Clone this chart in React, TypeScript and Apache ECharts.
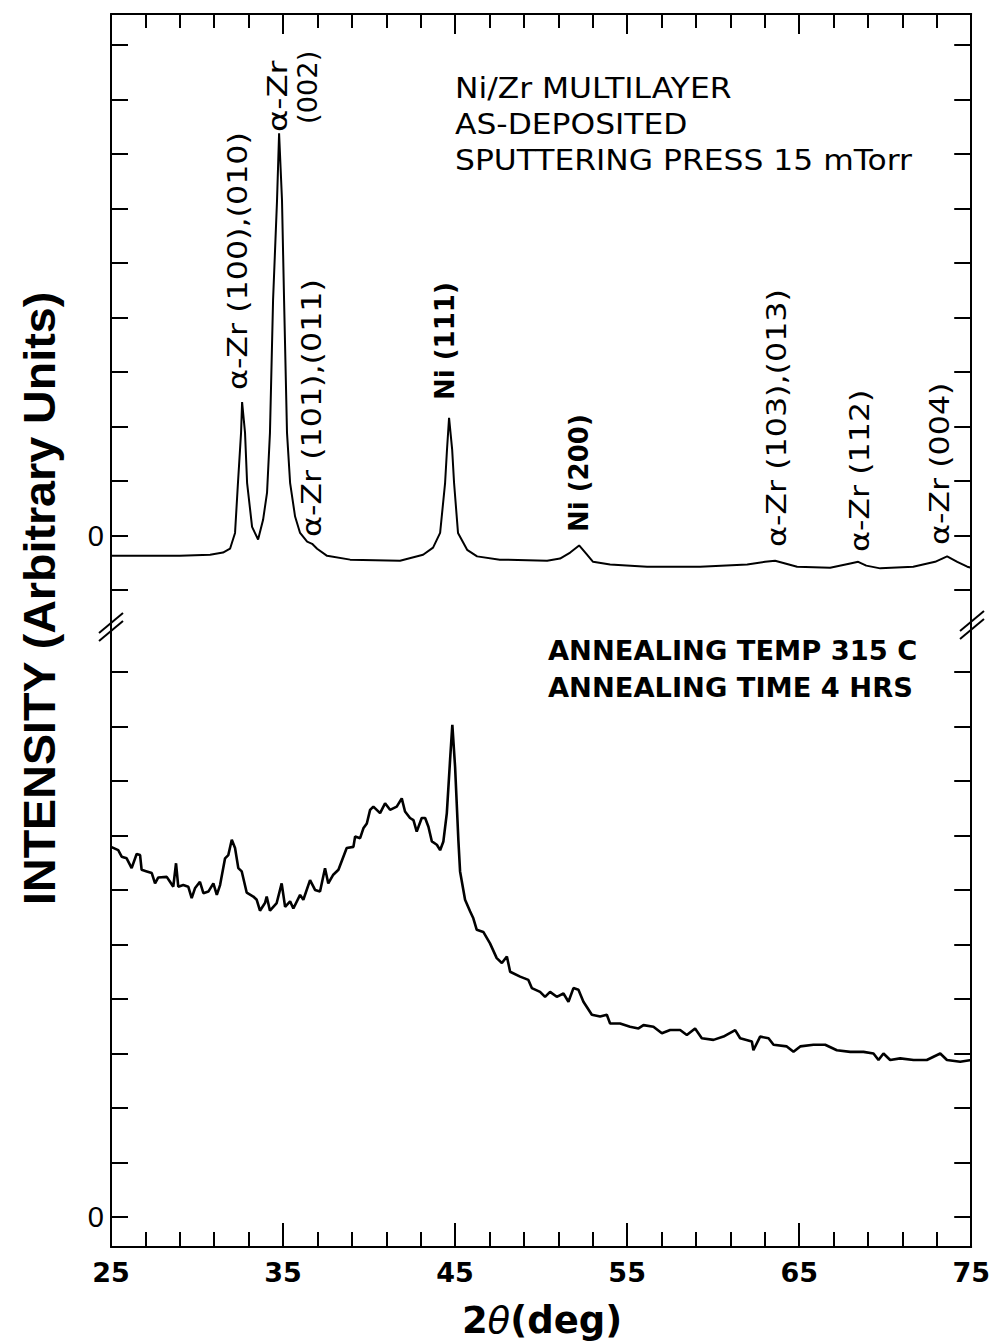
import React, { useEffect, useRef } from 'react';
import * as echarts from 'echarts';

// Horizontal scale (2θ, degrees)
const X_MIN = 25;
const X_MAX = 75;
const X_STEP = 10;

// As-deposited multilayer (intensity relative to its own zero)
const UPPER_2THETA = [25.0, 29.0, 30.76, 31.51, 31.92, 32.21, 32.38, 32.56, 32.62, 32.79, 32.91, 33.2, 33.55, 33.84, 34.07, 34.24, 34.42, 34.65, 34.77, 34.94, 35.06, 35.23, 35.41, 35.7, 35.99, 36.4, 36.69, 36.98, 37.56, 38.9, 41.8, 43.14, 43.72, 44.13, 44.42, 44.53, 44.65, 44.83, 44.94, 45.17, 45.7, 46.28, 47.6, 50.35, 51.1, 51.69, 52.21, 52.62, 53.02, 54.01, 56.16, 59.24, 61.98, 63.02, 63.6, 64.19, 64.88, 66.8, 67.97, 68.43, 68.9, 69.71, 71.63, 72.9, 73.6, 74.19, 74.77, 75.0];
const UPPER_INTENSITY = [-0.37, -0.37, -0.35, -0.31, -0.24, 0.05, 0.97, 1.89, 2.45, 1.89, 0.97, 0.16, -0.07, 0.29, 0.79, 1.89, 4.32, 6.15, 7.38, 6.15, 4.32, 1.89, 0.97, 0.35, 0.05, -0.11, -0.15, -0.24, -0.37, -0.44, -0.46, -0.35, -0.22, 0.05, 0.97, 1.58, 2.16, 1.58, 0.97, 0.05, -0.26, -0.38, -0.44, -0.46, -0.42, -0.31, -0.18, -0.33, -0.48, -0.53, -0.57, -0.57, -0.53, -0.48, -0.46, -0.51, -0.57, -0.59, -0.51, -0.48, -0.55, -0.6, -0.57, -0.48, -0.38, -0.48, -0.57, -0.59];

// Annealed 315 C, 4 hrs
const LOWER_2THETA = [25.0, 25.42, 25.62, 25.91, 26.2, 26.49, 26.69, 26.78, 27.08, 27.37, 27.56, 27.75, 28.24, 28.43, 28.62, 28.78, 28.91, 29.2, 29.49, 29.69, 29.88, 30.17, 30.37, 30.66, 30.95, 31.15, 31.34, 31.63, 31.82, 32.02, 32.21, 32.4, 32.6, 32.89, 33.27, 33.47, 33.66, 33.95, 34.05, 34.24, 34.63, 34.92, 35.12, 35.41, 35.6, 35.99, 36.18, 36.57, 36.86, 37.15, 37.44, 37.63, 37.92, 38.22, 38.7, 39.09, 39.19, 39.48, 39.67, 39.87, 40.06, 40.25, 40.64, 40.93, 41.22, 41.61, 41.9, 42.09, 42.38, 42.58, 42.77, 43.06, 43.26, 43.45, 43.65, 43.94, 44.13, 44.32, 44.52, 44.71, 44.84, 45.0, 45.19, 45.29, 45.48, 45.58, 45.87, 46.06, 46.26, 46.64, 47.03, 47.42, 47.72, 48.01, 48.2, 48.78, 49.26, 49.46, 49.94, 50.23, 50.52, 50.91, 51.3, 51.59, 51.88, 52.17, 52.46, 52.95, 53.43, 53.82, 54.01, 54.59, 55.17, 55.66, 55.95, 56.53, 57.02, 57.5, 58.08, 58.47, 58.95, 59.34, 60.02, 60.6, 61.28, 61.57, 62.25, 62.34, 62.73, 63.22, 63.51, 64.28, 64.67, 65.06, 65.83, 66.51, 67.19, 67.97, 68.74, 69.32, 69.61, 69.9, 70.29, 70.87, 71.65, 72.42, 72.81, 73.2, 73.59, 74.36, 75.0];
const LOWER_INTENSITY = [6.79, 6.73, 6.61, 6.58, 6.40, 6.66, 6.64, 6.37, 6.34, 6.31, 6.12, 6.23, 6.24, 6.15, 6.06, 6.49, 6.06, 6.09, 6.06, 5.85, 6.03, 6.15, 5.94, 5.97, 6.12, 5.91, 6.09, 6.58, 6.64, 6.92, 6.77, 6.40, 6.34, 5.95, 5.88, 5.82, 5.62, 5.76, 5.88, 5.62, 5.76, 6.12, 5.69, 5.79, 5.66, 5.91, 5.82, 6.18, 6.0, 5.97, 6.40, 6.12, 6.28, 6.37, 6.77, 6.79, 6.98, 6.95, 7.13, 7.22, 7.47, 7.53, 7.41, 7.59, 7.47, 7.53, 7.68, 7.44, 7.32, 7.28, 7.07, 7.32, 7.32, 7.16, 6.89, 6.83, 6.73, 6.89, 7.41, 8.39, 9.03, 8.26, 6.92, 6.34, 6.0, 5.82, 5.61, 5.48, 5.27, 5.23, 5.02, 4.75, 4.66, 4.78, 4.50, 4.41, 4.35, 4.20, 4.13, 4.04, 4.13, 4.04, 4.10, 3.95, 4.20, 4.17, 3.95, 3.71, 3.68, 3.71, 3.55, 3.55, 3.49, 3.46, 3.52, 3.49, 3.37, 3.43, 3.43, 3.34, 3.46, 3.28, 3.25, 3.31, 3.43, 3.28, 3.22, 3.06, 3.31, 3.28, 3.16, 3.13, 3.03, 3.13, 3.16, 3.16, 3.06, 3.03, 3.03, 3.0, 2.88, 3.0, 2.88, 2.91, 2.88, 2.88, 2.94, 3.0, 2.88, 2.85, 2.88];

// Shared vertical scale: lower trace zero at 0, upper trace zero shifted up
const UPPER_OFFSET = 12.5;
const Y_MIN = -0.55;
const Y_MAX = 22.07;
const LOWER_TICKS = [0, 1, 2, 3, 4, 5, 6, 7, 8, 9, 10];
const UPPER_TICKS = [-1, 0, 1, 2, 3, 4, 5, 6, 7, 8, 9];
const ZERO_LABELS = [0, UPPER_OFFSET];

const Y_TITLE = 'INTENSITY (Arbitrary Units)';
const UPPER_NOTE = ['Ni/Zr MULTILAYER', 'AS-DEPOSITED', 'SPUTTERING PRESS 15 mTorr'];
const LOWER_NOTE = ['ANNEALING TEMP 315 C', 'ANNEALING TIME 4 HRS'];

// Reflection labels (rotated): text, centre x, bottom y, bold, horizontal stretch
const PEAK_LABELS: [string, number, number, boolean, number][] = [
  ['α-Zr (100),(010)', 238, 390, false, 1.22],
  ['α-Zr', 278, 132, false, 1.3],
  ['(002)', 308, 124, false, 1.05],
  ['α-Zr (101),(011)', 312, 537, false, 1.22],
  ['Ni (111)', 445, 400, true, 1.0],
  ['Ni (200)', 579, 532, true, 1.0],
  ['α-Zr (103),(013)', 777, 547, false, 1.22],
  ['α-Zr (112)', 860, 552, false, 1.22],
  ['α-Zr (004)', 940, 545, false, 1.22],
];

const BLACK = '#000';
const FONT = 'DejaVu Sans';

function breakMarks(x: number, y: number): any[] {
  const marks: any[] = [];
  for (const dy of [-4, 4]) {
    marks.push({
      type: 'line',
      shape: { x1: x - 12, y1: y + dy + 10, x2: x + 12, y2: y + dy - 10 },
      style: { stroke: BLACK, lineWidth: 2 },
      z: 10,
    });
  }
  return marks;
}

export default function App() {
  const ref = useRef<HTMLDivElement>(null);

  useEffect(() => {
    if (!ref.current) return;
    const chart = echarts.init(ref.current, undefined, { renderer: 'svg' });

    const upperData = UPPER_2THETA.map((x, i) => [x, UPPER_INTENSITY[i] + UPPER_OFFSET]);
    const lowerData = LOWER_2THETA.map((x, i) => [x, LOWER_INTENSITY[i]]);

    const yTickValues = [...LOWER_TICKS, ...UPPER_TICKS.map((v) => v + UPPER_OFFSET)];

    const yAxisBase = {
      type: 'value',
      min: Y_MIN,
      max: Y_MAX,
      axisLine: { show: true, onZero: false, lineStyle: { color: BLACK, width: 2 } },
      axisTick: { show: true, inside: true, length: 17, customValues: yTickValues, lineStyle: { color: BLACK, width: 2 } },
      splitLine: { show: false },
    };

    const xAxisBase = {
      type: 'value',
      min: X_MIN,
      max: X_MAX,
      interval: X_STEP,
      axisLine: { show: true, onZero: false, lineStyle: { color: BLACK, width: 2 } },
      splitLine: { show: false },
      minorSplitLine: { show: false },
    };

    const graphics: any[] = [];

    graphics.push({
      type: 'text',
      x: 40,
      y: 905,
      rotation: Math.PI / 2,
      scaleX: 1.06,
      style: { text: Y_TITLE, fill: BLACK, font: 'bold 44px "Liberation Sans"', align: 'left', verticalAlign: 'middle' },
    });

    graphics.push({
      type: 'text',
      x: 542,
      y: 1320,
      style: {
        text: '{a|2}{b|θ}{a|(deg)}',
        align: 'center',
        verticalAlign: 'middle',
        rich: {
          a: { fontFamily: FONT, fontWeight: 'bold', fontSize: 37, fill: BLACK },
          b: { fontFamily: FONT, fontStyle: 'italic', fontSize: 37, fill: BLACK },
        },
      },
    });

    UPPER_NOTE.forEach((t, i) => {
      graphics.push({
        type: 'text',
        x: 455,
        y: 88 + i * 36,
        scaleX: 1.12,
        style: { text: t, fill: BLACK, fontFamily: FONT, fontSize: 28, align: 'left', verticalAlign: 'middle' },
      });
    });

    LOWER_NOTE.forEach((t, i) => {
      graphics.push({
        type: 'text',
        x: 548,
        y: 651 + i * 37,
        scaleX: 1.05,
        style: { text: t, fill: BLACK, fontFamily: FONT, fontWeight: 'bold', fontSize: 26, align: 'left', verticalAlign: 'middle' },
      });
    });

    PEAK_LABELS.forEach(([t, cx, by, bold, stretch]) => {
      graphics.push({
        type: 'text',
        x: cx,
        y: by,
        rotation: Math.PI / 2,
        scaleX: stretch,
        style: {
          text: t,
          fill: BLACK,
          fontFamily: FONT,
          fontWeight: bold ? 'bold' : 'normal',
          fontSize: 26,
          align: 'left',
          verticalAlign: 'middle',
        },
      });
    });

    graphics.push(...breakMarks(111, 627), ...breakMarks(972, 625));

    chart.setOption({
      animation: false,
      backgroundColor: '#fff',
      grid: { left: 111, right: 21, top: 14, bottom: 96, containLabel: false },
      xAxis: [
        {
          ...xAxisBase,
          position: 'bottom',
          axisTick: { show: true, inside: true, length: 24, lineStyle: { color: BLACK, width: 2 } },
          minorTick: { show: true, splitNumber: 5, length: 15, lineStyle: { color: BLACK, width: 2 } },
          axisLabel: { show: true, color: BLACK, fontFamily: FONT, fontWeight: 'bold', fontSize: 27, margin: 12 },
        },
        {
          ...xAxisBase,
          position: 'top',
          axisTick: { show: true, inside: true, length: 20, lineStyle: { color: BLACK, width: 2 } },
          minorTick: { show: true, splitNumber: 5, length: 14, lineStyle: { color: BLACK, width: 2 } },
          axisLabel: { show: false },
        },
      ],
      yAxis: [
        {
          ...yAxisBase,
          position: 'left',
          axisLabel: {
            show: true,
            customValues: ZERO_LABELS,
            formatter: () => '0',
            color: BLACK,
            fontFamily: 'Liberation Sans',
            fontSize: 29,
            margin: 7,
          },
        },
        {
          ...yAxisBase,
          position: 'right',
          axisLabel: { show: false },
        },
      ],
      series: [
        {
          type: 'line',
          name: 'as-deposited',
          xAxisIndex: 0,
          yAxisIndex: 0,
          data: upperData,
          showSymbol: false,
          symbol: 'none',
          lineStyle: { color: BLACK, width: 2 },
        },
        {
          type: 'line',
          name: 'annealed',
          xAxisIndex: 0,
          yAxisIndex: 0,
          data: lowerData,
          showSymbol: false,
          symbol: 'none',
          lineStyle: { color: BLACK, width: 2.6 },
        },
      ],
      graphic: graphics,
    });

    return () => chart.dispose();
  }, []);

  return <div ref={ref} style={{ position: 'absolute', left: 0, top: 0, width: 993, height: 1343, background: '#fff' }} />;
}
